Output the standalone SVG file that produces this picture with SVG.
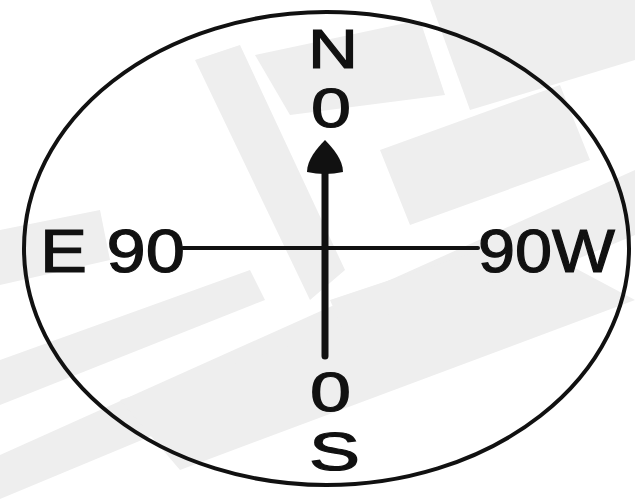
<svg xmlns="http://www.w3.org/2000/svg" width="635" height="499" viewBox="0 0 635 499">
<style>
.bg{fill:#eeeeee}
.lbl{font-family:"Liberation Sans",Arial,sans-serif;fill:#111;stroke:#111;stroke-width:1.2}
.ln{stroke:#111;fill:none;stroke-linecap:round}
</style>
<rect width="635" height="499" fill="#ffffff"/>
<g id="background">
<polygon class="bg" points="0,455 635,170 635,235 0,499"/>
<polygon class="bg" points="0,360 250,270 265,300 0,405"/>
<polygon class="bg" points="195,60 240,45 345,270 310,300"/>
<polygon class="bg" points="255,55 420,20 445,95 290,115"/>
<polygon class="bg" points="380,150 560,85 590,160 410,225"/>
<polygon class="bg" points="430,0 635,0 635,60 470,110"/>
<polygon class="bg" points="330,300 480,250 500,300 350,345"/>
<polygon class="bg" points="0,230 100,210 110,260 0,285"/>
<polygon class="bg" points="120,400 560,260 635,300 180,470"/>
</g>
<g id="dial">
<ellipse cx="326.5" cy="248.5" rx="302.5" ry="236.5" fill="none" stroke="#111" stroke-width="4"/>
</g>
<g id="connectors">
<line class="ln" x1="183" y1="248" x2="478" y2="248" stroke-width="4"/>
<line class="ln" x1="325" y1="168" x2="325" y2="356" stroke-width="7"/>
<path d="M325,140 C333,148 343,160 343,172 Q325,176 307,172 C307,160 317,148 325,140 Z" fill="#111"/>
</g>
<g id="north">
<text class="lbl" x="308" y="68" font-size="56" textLength="50" lengthAdjust="spacingAndGlyphs">N</text>
<text class="lbl" x="311" y="127" font-size="56" textLength="40" lengthAdjust="spacingAndGlyphs">0</text>
</g>
<g id="east">
<text class="lbl" x="40" y="272" font-size="62" textLength="145" lengthAdjust="spacingAndGlyphs">E 90</text>
</g>
<g id="west">
<text class="lbl" x="478" y="272" font-size="62" textLength="137" lengthAdjust="spacingAndGlyphs">90W</text>
</g>
<g id="south">
<text class="lbl" x="310" y="411" font-size="55" textLength="41" lengthAdjust="spacingAndGlyphs">0</text>
<text class="lbl" x="309" y="470" font-size="53" textLength="51" lengthAdjust="spacingAndGlyphs">S</text>
</g>
</svg>
